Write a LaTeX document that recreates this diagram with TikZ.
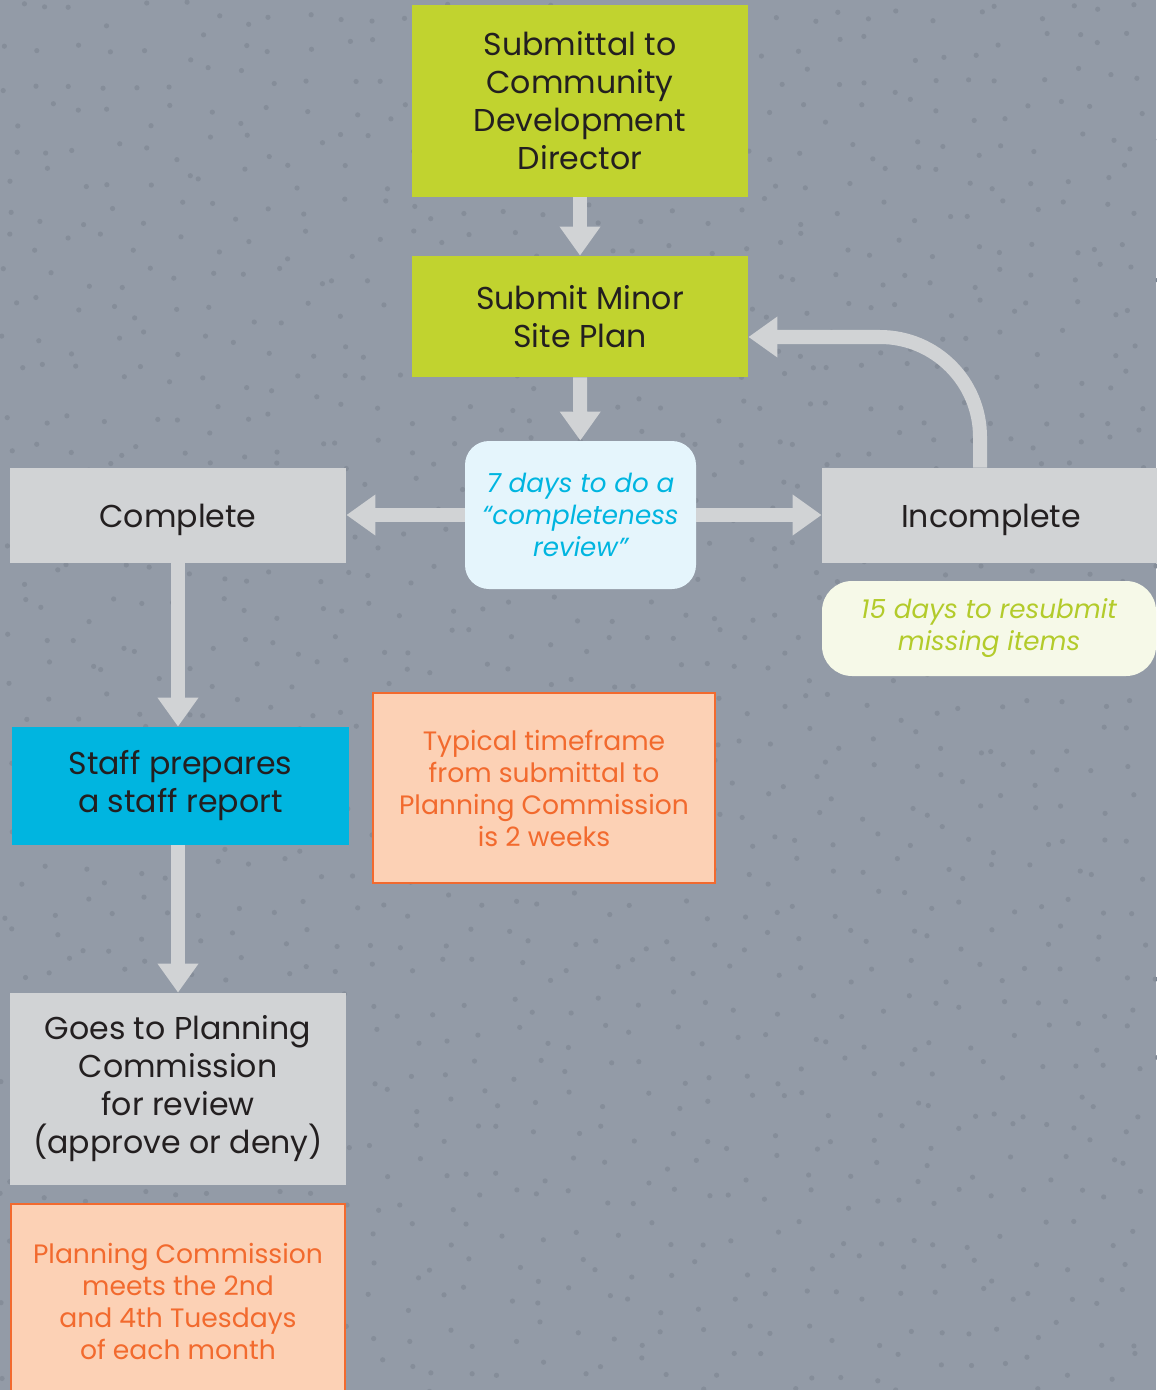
\documentclass[tikz,border=0pt]{standalone}
\usepackage{fontspec}
\setmainfont{Poppins}
\usetikzlibrary{arrows.meta}
\definecolor{bg}{HTML}{939BA7}
\definecolor{dotc}{HTML}{858D99}
\definecolor{lime}{HTML}{C1D32F}
\definecolor{grey}{HTML}{D1D3D5}
\definecolor{cyan}{HTML}{00B5E0}
\definecolor{paleblue}{HTML}{E5F5FC}
\definecolor{palelime}{HTML}{F6F9E8}
\definecolor{limetext}{HTML}{B3CB2B}
\definecolor{peach}{HTML}{FCD1B5}
\definecolor{orange}{HTML}{F26A2E}
\definecolor{ink}{HTML}{231F20}
\tikzset{
  box/.style={rectangle, inner sep=0pt, align=center, text=ink,
    font=\fontsize{15.8}{19}\selectfont},
  note/.style={box, rounded corners=12pt, font=\fontsize{13.1}{16}\selectfont\itshape},
  remark/.style={box, draw=orange, line width=1pt, fill=peach, text=orange,
    font=\fontsize{13.3}{16}\selectfont},
  flow/.style={draw=grey, line width=7pt, -{Triangle[width=19.5pt,length=14.5pt]}},
}
\begin{document}
\begin{tikzpicture}[x=0.5pt,y=-0.5pt]
  \useasboundingbox (0,0) rectangle (1156,1390);
  \fill[bg] (0,0) rectangle (1156,1390);
  % dotted backdrop
  \pgfmathsetseed{7}
  \foreach \i in {0,...,35}{
    \foreach \j in {0,...,43}{
      \pgfmathsetmacro{\dx}{rnd*28}
      \pgfmathsetmacro{\dy}{rnd*28}
      \fill[dotc] (\i*33+\dx,\j*33+\dy) circle (1.3pt);
    }
  }
  \node[box, fill=lime, minimum width=168pt, minimum height=96pt]
    (sub) at (580,101) {Submittal to\\Community\\Development\\Director};
  \node[box, fill=lime, minimum width=168pt, minimum height=60.5pt]
    (minor) at (580,316.5) {Submit Minor\\Site Plan};
  \node[note, fill=paleblue, text=cyan, minimum width=115.5pt, minimum height=74pt]
    (review) at (580.5,515) {7 days to do a\\“completeness\\review”};
  \node[box, fill=grey, minimum width=168pt, minimum height=47.5pt, text depth=0pt]
    (complete) at (178,515.5) {Complete};
  \node[box, fill=grey, minimum width=169pt, minimum height=47.5pt, text depth=0pt]
    (incomplete) at (991,515.5) {Incomplete};
  \node[note, fill=palelime, text=limetext, rounded corners=15pt,
    minimum width=167pt, minimum height=47.5pt]
    (resubmit) at (989,628.5) {15 days to resubmit\\missing items};
  \node[box, fill=cyan, minimum width=168.5pt, minimum height=59pt]
    (staff) at (180.5,786) {Staff prepares\\a staff report};
  \node[remark, minimum width=171pt, minimum height=95pt]
    (timeframe) at (544,788) {Typical timeframe\\from submittal to\\Planning Commission\\is 2 weeks};
  \node[box, fill=grey, minimum width=168pt, minimum height=96pt]
    (goes) at (178,1089) {Goes to Planning\\Commission\\for review\\(approve or deny)};
  \node[remark, minimum width=167pt, minimum height=98pt]
    (meets) at (178,1301.5) {Planning Commission\\meets the 2nd\\and 4th Tuesdays\\of each month};
  \begin{scope}
    \draw[flow] (sub) -- (minor);
    \draw[flow] (minor) -- (review);
    \draw[flow] (review.west) -- (complete.east |- review.west);
    \draw[flow] (review.east) -- (incomplete.west |- review.east);
    \draw[flow, rounded corners=50pt] ([xshift=-5.5pt]incomplete.north) |- ([yshift=-10.25pt]minor.east);
    \draw[flow] (complete.south) -- (complete.south |- staff.north);
    \draw[flow] (staff.south -| goes) -- (goes.north);
  \end{scope}
\end{tikzpicture}
\end{document}
